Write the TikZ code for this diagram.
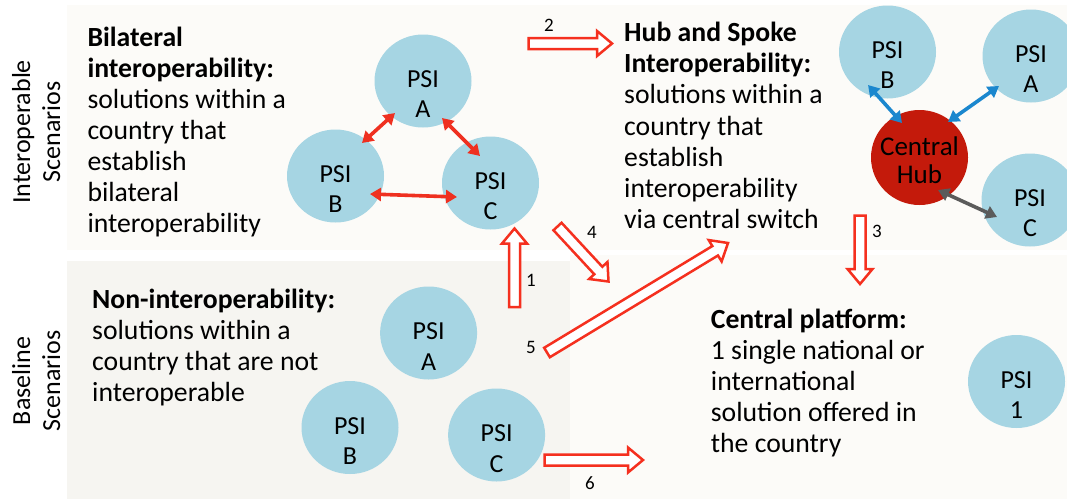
\documentclass[tikz,border=0pt]{standalone}
\usepackage{fontspec}
\setmainfont{Carlito}
\usetikzlibrary{calc,arrows.meta,shapes.geometric}

\definecolor{psiblue}{HTML}{A6D5E3}
\definecolor{hubred}{HTML}{C41A0B}
\definecolor{flowred}{HTML}{F5301F}
\definecolor{linkred}{HTML}{EF3020}
\definecolor{linkblue}{HTML}{1B87CE}
\definecolor{linkgray}{HTML}{5B5B5B}
\definecolor{panellight}{HTML}{FCFBF8}
\definecolor{paneldark}{HTML}{F6F5F1}

% stacked lines, aligned on the baseline of the first one
\newcommand\lines[2][l]{\begin{tabular}[t]{@{}#1@{}}#2\end{tabular}}

% hollow block arrow from a tail coordinate to a tip coordinate
\newcommand\flowarrow[2]{%
  \coordinate (fh) at ($(#2)!15pt!(#1)$);
  \draw[flow] ($(#1)!5.5pt!90:(#2)$) -- ($(fh)!5.5pt!90:(#2)$)
    -- ($(fh)!12.5pt!90:(#2)$) -- (#2) -- ($(fh)!12.5pt!-90:(#2)$)
    -- ($(fh)!5.5pt!-90:(#2)$) -- ($(#1)!5.5pt!-90:(#2)$) -- cycle;
}

\tikzset{
  psi/.style={ellipse, fill=psiblue, minimum width=97pt, minimum height=93pt, inner sep=0pt},
  hubnode/.style={ellipse, fill=hubred, minimum width=97pt, minimum height=95pt, inner sep=0pt},
  psitext/.style={anchor=base, inner sep=0pt, font=\fontsize{26}{30.6}\selectfont},
  hubtext/.style={anchor=base, inner sep=0pt, font=\fontsize{27}{28.3}\selectfont},
  desc/.style={anchor=base west, inner sep=0pt, font=\fontsize{27.7}{31.1}\selectfont},
  side/.style={rotate=90, inner sep=0pt, font=\fontsize{26}{30}\selectfont},
  link/.style={line width=3.6pt, {Triangle[length=11pt,width=13pt]}-{Triangle[length=11pt,width=13pt]}},
  flow/.style={draw=flowred, fill=white, line width=2.5pt, line join=miter},
  flownum/.style={inner sep=0pt, font=\fontsize{19}{21}\selectfont},
}

\begin{document}
\begin{tikzpicture}[x=1pt, y=-1pt]
\useasboundingbox (0,0) rectangle (1067,499);
\fill[white] (0,0) rectangle (1067,499);

% scenario panels
\fill[panellight] (67,5) rectangle (1067,250);
\fill[panellight] (570,255) rectangle (1067,499);
\fill[paneldark] (67,261) rectangle (570,499);

% side headings
\node[side] (sideTop) at (39,132) {\lines[c]{Interoperable\\Scenarios}};
\node[side] (sideBot) at (39,381) {\lines[c]{Baseline\\Scenarios}};

% descriptions
\node[desc] (txtBi) at (87.3,46) {\lines{\textbf{Bilateral}\\\textbf{interoperability:}\\solutions within a\\country that\\establish\\bilateral\\interoperability}};
\node[desc] (txtHub) at (624,41.7) {\lines{\textbf{Hub and Spoke}\\\textbf{Interoperability:}\\solutions within a\\country that\\establish\\interoperability\\via central switch}};
\node[desc] (txtNon) at (92,308.3) {\lines{\textbf{Non-interoperability:}\\solutions within a\\country that are not\\interoperable}};
\node[desc] (txtCen) at (710.7,328) {\lines{\textbf{Central platform:}\\1 single national or\\international\\solution offered in\\the country}};

% bilateral cluster
\node[psi] (bA) at (423,81) {};
\node[psi] (bB) at (335.5,176) {};
\node[psi] (bC) at (490.5,183) {};
\node[psitext] (bAt) at ($(bA)+(0,6)$) {\lines[c]{PSI\\A}};
\node[psitext] (bBt) at ($(bB)+(0,6)$) {\lines[c]{PSI\\B}};
\node[psitext] (bCt) at ($(bC)+(0,6)$) {\lines[c]{PSI\\C}};
\draw[link, linkred] ($(bA)+(-28,32)$) -- ($(bB)+(26.5,-33)$);
\draw[link, linkred] ($(bA)+(19,37)$) -- ($(bC)+(-10.5,-27)$);
\draw[link, linkred] ($(bB)+(34.5,18)$) -- ($(bC)+(-33.5,14)$);

% hub and spoke cluster
\node[psi] (hB) at (887.5,52) {};
\node[psi] (hA) at (1031,56) {};
\node[psi] (hC) at (1030,200) {};
\node[hubnode] (hub) at (919.5,157.5) {};
\node[psitext] (hBt) at ($(hB)+(0,6)$) {\lines[c]{PSI\\B}};
\node[psitext] (hAt) at ($(hA)+(0,6)$) {\lines[c]{PSI\\A}};
\node[psitext] (hCt) at ($(hC)+(0,6)$) {\lines[c]{PSI\\C}};
\node[hubtext] (hubt) at ($(hub)+(0,-2.5)$) {\lines[c]{Central\\Hub}};
\draw[link, linkblue] ($(hB)+(-19.5,33)$) -- ($(hub)+(-17.5,-34.5)$);
\draw[link, linkblue] ($(hA)+(-32,30)$) -- ($(hub)+(28.5,-35.5)$);
\draw[link, linkgray] ($(hub)+(18.5,32.5)$) -- ($(hC)+(-33,17)$);

% separate solutions
\node[psi] (nA) at (428.6,333) {};
\node[psi] (nB) at (350,427.5) {};
\node[psi] (nC) at (496.6,435) {};
\node[psitext] (nAt) at ($(nA)+(0,6.5)$) {\lines[c]{PSI\\A}};
\node[psitext] (nBt) at ($(nB)+(0,6.5)$) {\lines[c]{PSI\\B}};
\node[psitext] (nCt) at ($(nC)+(0,6.5)$) {\lines[c]{PSI\\C}};

% single platform
\node[psi] (c1) at (1016.5,381.5) {};
\node[psitext] (c1t) at ($(c1)+(0,6.5)$) {\lines[c]{PSI\\1}};

% transitions between scenarios
\coordinate (f1t) at (514.5,307);
\coordinate (f1h) at (514.5,228.5);
\coordinate (f2t) at (528.5,43.5);
\coordinate (f2h) at (612,43.5);
\coordinate (f3t) at (860,215.5);
\coordinate (f3h) at (860,284);
\coordinate (f4t) at (557.5,226.5);
\coordinate (f4h) at (608.5,281.5);
\coordinate (f5t) at (547,352.5);
\coordinate (f5h) at (728,243);
\coordinate (f6t) at (544.5,460);
\coordinate (f6h) at (643,460);
\flowarrow{f1t}{f1h}
\flowarrow{f2t}{f2h}
\flowarrow{f3t}{f3h}
\flowarrow{f4t}{f4h}
\flowarrow{f5t}{f5h}
\flowarrow{f6t}{f6h}
\node[flownum] (n1) at (531,280) {1};
\node[flownum] (n2) at (549,25) {2};
\node[flownum] (n3) at (877,231) {3};
\node[flownum] (n4) at (592,232) {4};
\node[flownum] (n5) at (531,347) {5};
\node[flownum] (n6) at (590,483) {6};
\end{tikzpicture}
\end{document}
